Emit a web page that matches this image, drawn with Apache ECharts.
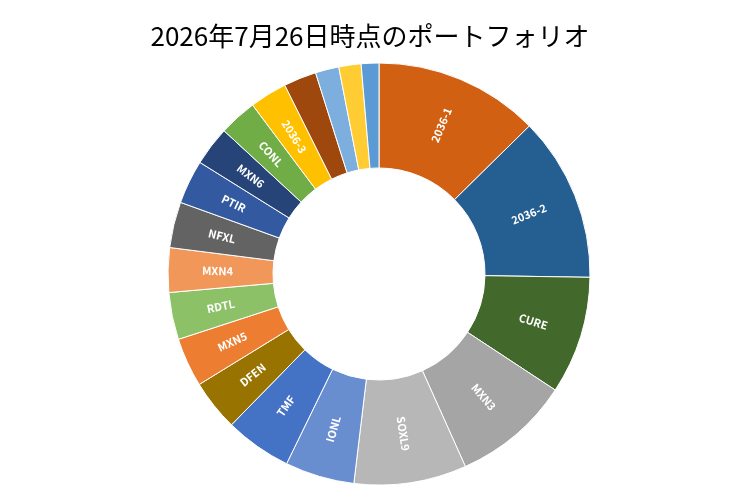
<!DOCTYPE html>
<html>
<head>
<meta charset="utf-8">
<script src="https://cdn.jsdelivr.net/npm/echarts@6/dist/echarts.min.js"></script>
<style>
  html, body { margin: 0; padding: 0; background: #fff; }
  #main { width: 740px; height: 493px; }
</style>
</head>
<body>
<div id="main"></div>
<script>
var names = ['2036-1', '2036-2', 'CURE', 'MXN3', 'SOXL9', 'IONL', 'TMF', 'DFEN', 'MXN5', 'RDTL',
             'MXN4', 'NFXL', 'PTIR', 'MXN6', 'CONL', '2036-3', 'other1', 'other2', 'other3', 'other4'];
var values = [12.6, 12.6, 9.0, 9.0, 8.6, 5.3, 5.1, 3.9, 3.75, 3.6,
              3.4, 3.5, 3.35, 3.0, 2.9, 2.85, 2.5, 1.8, 1.7, 1.35];
var showLabel = [true, true, true, true, true, true, true, true, true, true,
                 true, true, true, true, true, true, false, false, false, false];
var colors = ['#D26012', '#255E91', '#43682B', '#A5A5A5', '#B7B7B7', '#698ED0', '#4472C4', '#997300', '#ED7D31', '#8CC168',
              '#F1975A', '#636363', '#335AA1', '#264478', '#70AD47', '#FFC000', '#9E480E', '#7CAFDD', '#FFCD33', '#5B9BD5'];

var myChart = echarts.init(document.getElementById('main'));

var data = names.map(function (n, i) {
    return {
        name: n,
        value: values[i],
        itemStyle: { color: colors[i] },
        label: { show: showLabel[i] }
    };
});

var option = {
    backgroundColor: '#fff',
    animation: false,
    title: {
        text: '2026年7月26日時点のポートフォリオ',
        left: 'center',
        top: 18,
        textStyle: {
            fontFamily: 'Noto Sans CJK JP',
            fontSize: 26,
            fontWeight: 'normal',
            color: '#000'
        }
    },
    series: [
        {
            type: 'pie',
            center: [379, 274],
            radius: [106, 211],
            startAngle: 90,
            clockwise: true,
            avoidLabelOverlap: false,
            itemStyle: {
                borderColor: '#fff',
                borderWidth: 1
            },
            label: {
                position: 'inside',
                rotate: 'radial',
                color: '#fff',
                fontFamily: 'Noto Sans CJK JP',
                fontWeight: 'bold',
                fontSize: 11,
                formatter: '{b}'
            },
            labelLine: { show: false },
            data: data
        }
    ]
};

myChart.setOption(option);
</script>
</body>
</html>
